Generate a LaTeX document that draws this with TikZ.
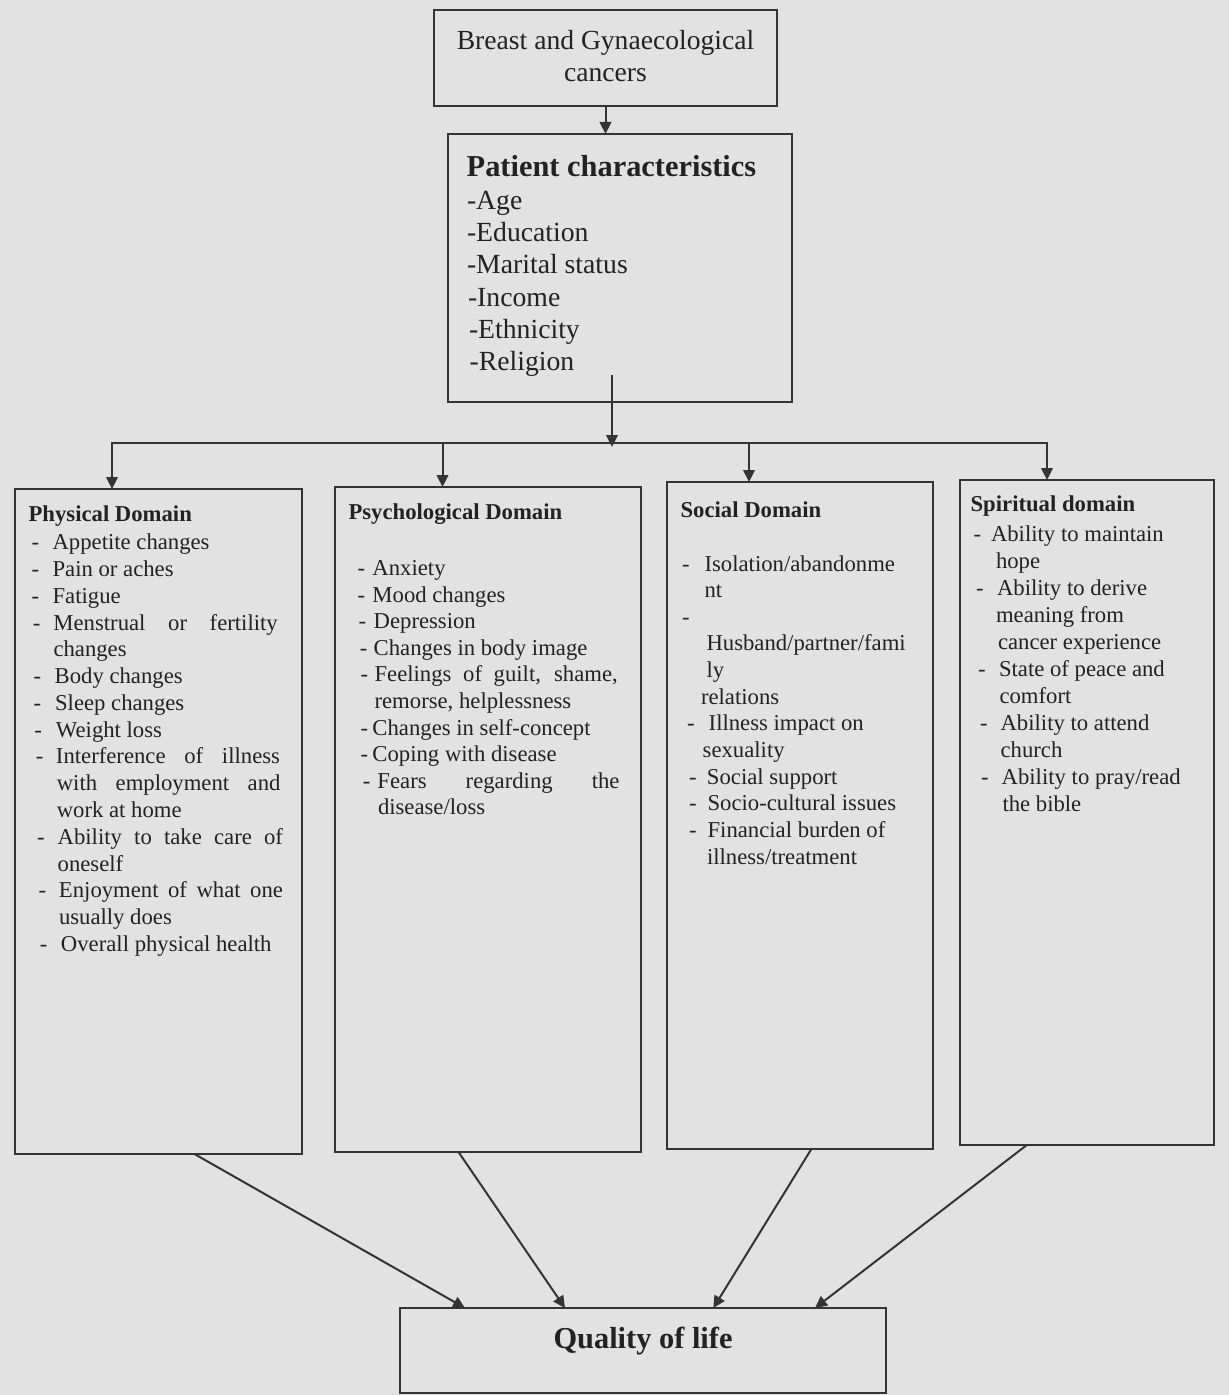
\documentclass[tikz,border=0pt]{standalone}
\usepackage{fontspec}
\setmainfont{Liberation Serif}
\usetikzlibrary{arrows.meta}
\definecolor{bg}{RGB}{226,226,226}
\definecolor{ink}{RGB}{34,34,34}
\definecolor{edge}{RGB}{52,52,52}
\newcommand\dsh[2]{\hspace*{#1}\makebox[#2][l]{-}}
\newcommand\ind[1]{\hspace*{#1}}
\newcommand\jst[2]{\makebox[#1][s]{#2}}
\newcommand\fst{\rule{0pt}{1em}}
\newcommand\fntA{\fontsize{13.8pt}{15.95pt}\selectfont}
\newcommand\fntT{\bfseries\fontsize{15.2pt}{18pt}\selectfont}
\newcommand\fntL{\fontsize{13.85pt}{16.15pt}\selectfont}
\newcommand\fntD{\bfseries\fontsize{11.35pt}{13.4pt}\selectfont}
\newcommand\fntB[1]{\fontsize{11.35pt}{#1}\selectfont}
\begin{document}
\begin{tikzpicture}[x=0.5pt,y=-0.5pt,
  frame/.style={draw=edge,line width=1pt,inner sep=0pt,outer sep=0pt,rectangle},
  txt/.style={text=ink,inner sep=0pt,outer sep=0pt},
  ln/.style={draw=edge,line width=1pt},
  arr/.style={draw=edge,line width=1pt,-{Triangle[length=6pt,width=5.8pt]}}]
\fill[bg] (0,0) rectangle (1229,1395);
\useasboundingbox (0,0) rectangle (1229,1395);

% boxes
\node[frame,minimum width=171.5pt,minimum height=47.75pt] (top) at (605.5,58.25) {};
\node[frame,minimum width=172pt,minimum height=134pt] (pc) at (620,268) {};
\node[frame,minimum width=143.5pt,minimum height=332.5pt] (phys) at (158.5,821.5) {};
\node[frame,minimum width=152.8pt,minimum height=332.5pt] (psych) at (488.2,819.5) {};
\node[frame,minimum width=132.8pt,minimum height=333.65pt] (social) at (800.2,815.65) {};
\node[frame,minimum width=127pt,minimum height=332.5pt] (spirit) at (1086.5,812.5) {};
\node[frame,minimum width=243pt,minimum height=42.5pt] (qol) at (643,1350.5) {};

% texts
\node[txt,font=\fntA,align=center,anchor=north] (topt) at (605.5,22.4)
  {\fst Breast and Gynaecological\\cancers};
\node[txt,font=\fntT,anchor=west] (pct) at (466.7,166) {Patient characteristics};
\node[txt,font=\fntL,align=left,anchor=north west] (pcl) at (467,181.6)
  {\fst-Age\\-Education\\-Marital status\\\ind{0.5pt}-Income\\\ind{1pt}-Ethnicity\\\ind{1.3pt}-Religion};

\node[txt,font=\fntD,anchor=west] (physt) at (28.6,516) {Physical Domain};
\node[txt,font=\fntD,anchor=west] (psyt) at (348.5,513.7) {Psychological Domain};
\node[txt,font=\fntD,anchor=west] (sodt) at (680.6,509.3) {Social Domain};
\node[txt,font=\fntD,anchor=west] (spit) at (970.6,506) {Spiritual domain};

\node[txt,font={\fntB{13.39pt}},align=left,anchor=north west] (physl) at (31,527) {%
\fst\dsh{0.3pt}{10.5pt}Appetite changes\\
\dsh{0.3pt}{10.5pt}Pain or aches\\
\dsh{0.3pt}{10.5pt}Fatigue\\
\dsh{0.9pt}{10.35pt}\jst{112.15pt}{Menstrual or fertility}\\
\ind{11.25pt}changes\\
\dsh{1.35pt}{10.5pt}Body changes\\
\dsh{1.35pt}{10.7pt}Sleep changes\\
\dsh{1.75pt}{10.75pt}Weight loss\\
\dsh{2.4pt}{10.1pt}\jst{112pt}{Interference of illness}\\
\ind{12.9pt}\jst{111.85pt}{with employment and}\\
\ind{12.9pt}work at home\\
\dsh{3pt}{10.35pt}\jst{112.65pt}{Ability to take care of}\\
\ind{13.35pt}oneself\\
\dsh{3.85pt}{10.15pt}\jst{112pt}{Enjoyment of what one}\\
\ind{14pt}usually does\\
\dsh{4.5pt}{10.5pt}Overall physical health};

\node[txt,font={\fntB{13.28pt}},align=left,anchor=north west] (psyl) at (357,553) {%
\fst\dsh{0.35pt}{7.4pt}Anxiety\\
\dsh{0.35pt}{7.4pt}Mood changes\\
\dsh{0.8pt}{7.55pt}Depression\\
\dsh{1.4pt}{6.95pt}Changes in body image\\
\dsh{1.85pt}{6.95pt}\jst{121.6pt}{Feelings of guilt, shame,}\\
\ind{8.8pt}remorse, helplessness\\
\dsh{1.85pt}{5.9pt}Changes in self-concept\\
\dsh{1.85pt}{5.9pt}Coping with disease\\
\dsh{2.9pt}{7.35pt}\jst{121pt}{Fears regarding the}\\
\ind{10.5pt}disease/loss};

\node[txt,font={\fntB{13.32pt}},align=left,anchor=north west] (socl) at (682,548.3) {%
\fst\dsh{0pt}{11.3pt}Isolation/abandonme\\
\ind{11.3pt}nt\\
\mbox{-}\\
\ind{12.25pt}Husband/partner/fami\\
\ind{12.25pt}ly\\
\ind{9.5pt}relations\\
\dsh{2.5pt}{10.85pt}Illness impact on\\
\ind{10.35pt}sexuality\\
\dsh{3.5pt}{9pt}Social support\\
\dsh{3.5pt}{9.3pt}Socio-cultural issues\\
\dsh{3.5pt}{9.3pt}Financial burden of\\
\ind{12.5pt}illness/treatment};

\node[txt,font={\fntB{13.5pt}},align=left,anchor=north west] (spil) at (973,518.8) {%
\fst\dsh{0.3pt}{8.7pt}Ability to maintain\\
\ind{11.5pt}hope\\
\dsh{1.5pt}{10.5pt}Ability to derive\\
\ind{11.5pt}meaning from\\
\ind{12.5pt}cancer experience\\
\dsh{2.5pt}{10.5pt}State of peace and\\
\ind{13.25pt}comfort\\
\dsh{3.5pt}{10.3pt}Ability to attend\\
\ind{13.8pt}church\\
\dsh{4pt}{10.35pt}Ability to pray/read\\
\ind{14.75pt}the bible};

\node[txt,font=\fntT,anchor=center] (qolt) at (643,1341) {Quality of life};

% connectors
\draw[arr] (top.south) -- (top.south |- pc.north);
\coordinate (jn) at (612,447);
\path (pc.south -| jn) ++(0,-27) coordinate (js);
\draw[arr] (js) -- (jn);
\coordinate (h1) at (112,443);
\coordinate (h2) at (442.5,443);
\coordinate (h3) at (749,443);
\coordinate (h4) at (1047,443);
\draw[arr] (h2) -- (h1) -- (h1 |- phys.north);
\draw[arr] (h3) -- (h4) -- (h4 |- spirit.north);
\draw[ln] (h2) -- (h3);
\draw[arr] (h2) -- (h2 |- psych.north);
\draw[arr] (h3) -- (h3 |- social.north);

\draw[arr] ([xshift=18pt]phys.south) -- ([xshift=-89pt]qol.north);
\draw[arr] ([xshift=-14.85pt]psych.south) -- ([xshift=-39pt]qol.north);
\draw[arr] ([xshift=5.5pt]social.south) -- ([xshift=35.15pt]qol.north);
\draw[arr] ([xshift=-29.85pt]spirit.south) -- ([xshift=86pt]qol.north);
\end{tikzpicture}
\end{document}
